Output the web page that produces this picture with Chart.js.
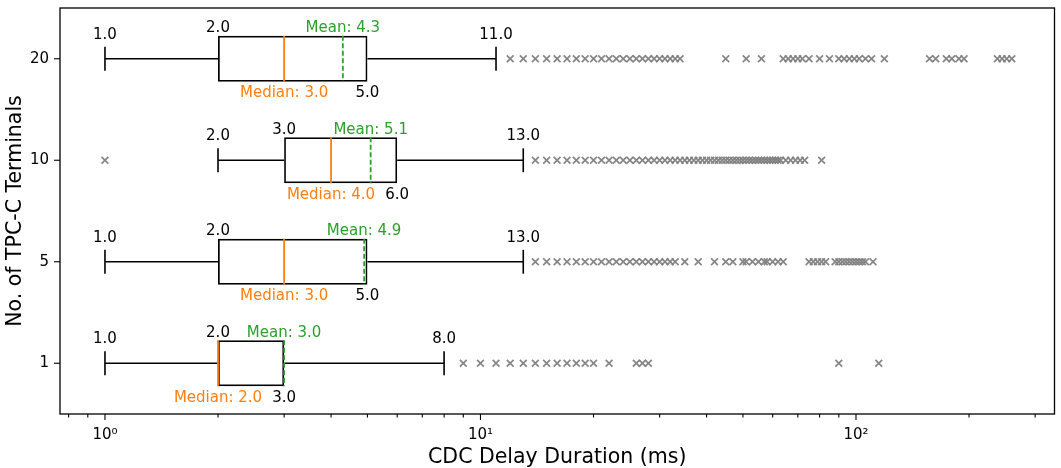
<!DOCTYPE html>
<html><head><meta charset="utf-8">
<script src="https://cdn.jsdelivr.net/npm/chart.js@4.4.0/dist/chart.umd.min.js"></script>
<style>html,body{margin:0;padding:0;background:#fff;overflow:hidden}</style>
</head><body>
<canvas id="c" width="1061" height="468"></canvas>
<script>
const categories = ['20', '10', '5', '1'];
const whiskerLow  = [1, 2, 1, 1];
const q1          = [2, 3, 2, 2];
const median      = [3, 4, 3, 2];
const mean        = [4.3, 5.1, 4.9, 3.0];
const q3          = [5, 6, 5, 3];
const whiskerHigh = [11, 13, 13, 8];

const outliers20 = [12,13,14,15,16,17,18,19,20,21,22,23,24,25,26,27,28,29,30,31,32,33,34,
  45,51,56,64,66,68,70,72,75,80,85,90,93,96,99,102,106,110,119,157,163,174,180,188,194,238,245,252,260];
const outliers10 = [1,14,15,16,17,18,19,20,21,22,23,24,25,26,27,28,29,30,31,32,33,34,35,36,37,38,39,
  40,41,42,43,44,45,46,47,48,49,50,51,52,53,54,55,56,57,58,59,60,61,62,63,65,67,69,71,73,81];
const outliers5 = [14,15,16,17,18,19,20,21,22,23,24,25,26,27,28,29,30,31,32,33,35,38,42,45,47,
  50,51,53,55,57,58,60,62,64,75,77,79,81,83,88,90,92,94,96,98,100,102,104,106,111];
const outliers1 = [9,10,11,12,13,14,15,16,17,18,19,20,22,26,27,28,90,115];
const outlierLists = [outliers20, outliers10, outliers5, outliers1];

const xTickValues = [0.8,0.9,1,2,3,4,5,6,7,8,9,10,20,30,40,50,60,70,80,90,100,200,300];
const xMajorTicks = [1, 10, 100];
const xTickLabels = ['10\u2070', '10\u00B9', '10\u00B2'];

const FONT = '"DejaVu Sans", sans-serif';
Chart.defaults.font.family = FONT;
Chart.defaults.color = '#000';

const outlierPoints = [];
outlierLists.forEach((list, i) => list.forEach(v => outlierPoints.push({x: v, y: categories[i]})));

const boxPlugin = {
  id: 'boxPlugin',
  afterDatasetsDraw(chart) {
    const {ctx, chartArea: a, scales: {x, y}} = chart;
    const meta = chart.getDatasetMeta(0);
    const line = (x1, y1, x2, y2) => { ctx.beginPath(); ctx.moveTo(x1, y1); ctx.lineTo(x2, y2); ctx.stroke(); };
    ctx.save();
    categories.forEach((c, i) => {
      const bar = meta.data[i];
      const cy = bar.y;
      const half = bar.height / 2;
      const top = cy - half, bot = cy + half;
      const capHalf = half * 0.52;
      const xl = x.getPixelForValue(whiskerLow[i]);
      const xq1 = x.getPixelForValue(q1[i]);
      const xq3 = x.getPixelForValue(q3[i]);
      const xh = x.getPixelForValue(whiskerHigh[i]);
      const xm = x.getPixelForValue(median[i]);
      const xmn = x.getPixelForValue(mean[i]);
      ctx.setLineDash([]);
      ctx.strokeStyle = '#000'; ctx.lineWidth = 1.6;
      line(xl, cy, xq1, cy); line(xq3, cy, xh, cy);
      line(xl, cy - capHalf, xl, cy + capHalf);
      line(xh, cy - capHalf, xh, cy + capHalf);
      ctx.strokeStyle = '#ff7f0e'; ctx.lineWidth = 1.8;
      line(xm, top, xm, bot);
      ctx.strokeStyle = '#2ca02c'; ctx.lineWidth = 1.8; ctx.setLineDash([5, 2.5]);
      line(xmn, top, xmn, bot);
      ctx.setLineDash([]);
      ctx.font = '15px ' + FONT; ctx.textAlign = 'center'; ctx.textBaseline = 'alphabetic';
      ctx.fillStyle = '#000';
      ctx.fillText(whiskerLow[i].toFixed(1), xl, cy - 20);
      ctx.fillText(whiskerHigh[i].toFixed(1), xh, cy - 20);
      ctx.fillText(q1[i].toFixed(1), xq1, top - 3.7);
      ctx.fillText(q3[i].toFixed(1), xq3, bot + 15.5);
      ctx.fillStyle = '#2ca02c';
      ctx.fillText('Mean: ' + mean[i].toFixed(1), xmn, top - 3.7);
      ctx.fillStyle = '#ff7f0e';
      ctx.fillText('Median: ' + median[i].toFixed(1), xm, bot + 15.5);
    });
    // frame
    ctx.strokeStyle = '#000'; ctx.lineWidth = 1.3;
    ctx.strokeRect(a.left, a.top, a.right - a.left, a.bottom - a.top);
    // x tick marks
    ctx.lineWidth = 1.1;
    xTickValues.forEach(v => {
      const px = x.getPixelForValue(v);
      const len = xMajorTicks.includes(v) ? 6 : 3.5;
      line(px, a.bottom, px, a.bottom + len);
    });
    // y tick marks
    categories.forEach((c, i) => {
      const py = y.getPixelForValue(i);
      line(a.left, py, a.left - 6, py);
    });
    ctx.restore();
  }
};

new Chart(document.getElementById('c'), {
  type: 'bar',
  data: {
    labels: categories,
    datasets: [
      {
        type: 'bar',
        data: categories.map((c, i) => [q1[i], q3[i]]),
        backgroundColor: 'rgba(255,255,255,0)',
        borderColor: '#000',
        borderWidth: 1.7,
        borderSkipped: false,
        barPercentage: 0.452,
        categoryPercentage: 1
      },
      {
        type: 'scatter',
        data: outlierPoints,
        pointStyle: 'crossRot',
        radius: 4.8,
        borderColor: 'rgba(128,128,128,0.95)',
        backgroundColor: 'rgba(128,128,128,0.95)',
        borderWidth: 1.7
      }
    ]
  },
  options: {
    indexAxis: 'y',
    responsive: false,
    animation: false,
    devicePixelRatio: 1,
    layout: {padding: {top: 8, right: 3, left: 0, bottom: 0}},
    plugins: {legend: {display: false}, tooltip: {enabled: false}},
    scales: {
      x: {
        type: 'logarithmic',
        position: 'bottom',
        min: 0.759,
        max: 337.8,
        bounds: 'data',
        grid: {display: false, drawTicks: false},
        border: {display: false},
        afterBuildTicks: s => { s.ticks = xTickValues.map(v => ({value: v, major: xMajorTicks.includes(v)})); },
        afterFit: s => { s.height = 54; s.paddingLeft = 0; s.paddingRight = 0; },
        ticks: {
          autoSkip: false, maxRotation: 0, padding: 12,
          font: {size: 15}, color: '#000',
          callback: v => { const k = xMajorTicks.indexOf(v); return k >= 0 ? xTickLabels[k] : ''; }
        },
        title: {display: true, text: 'CDC Delay Duration (ms)', color: '#000',
          font: {size: 20.5, lineHeight: 1}, padding: {top: 0, bottom: 0}}
      },
      y: {
        type: 'category',
        position: 'left',
        offset: true,
        grid: {display: false, drawTicks: false},
        border: {display: false},
        afterFit: s => { s.width = 60; s.paddingTop = 0; s.paddingBottom = 0; },
        ticks: {padding: 11, font: {size: 15}, color: '#000'},
        title: {display: true, text: 'No. of TPC-C Terminals', color: '#000',
          font: {size: 20.5, lineHeight: 1}, padding: {top: 5, bottom: 0}}
      }
    }
  },
  plugins: [boxPlugin]
});
</script>
</body></html>
